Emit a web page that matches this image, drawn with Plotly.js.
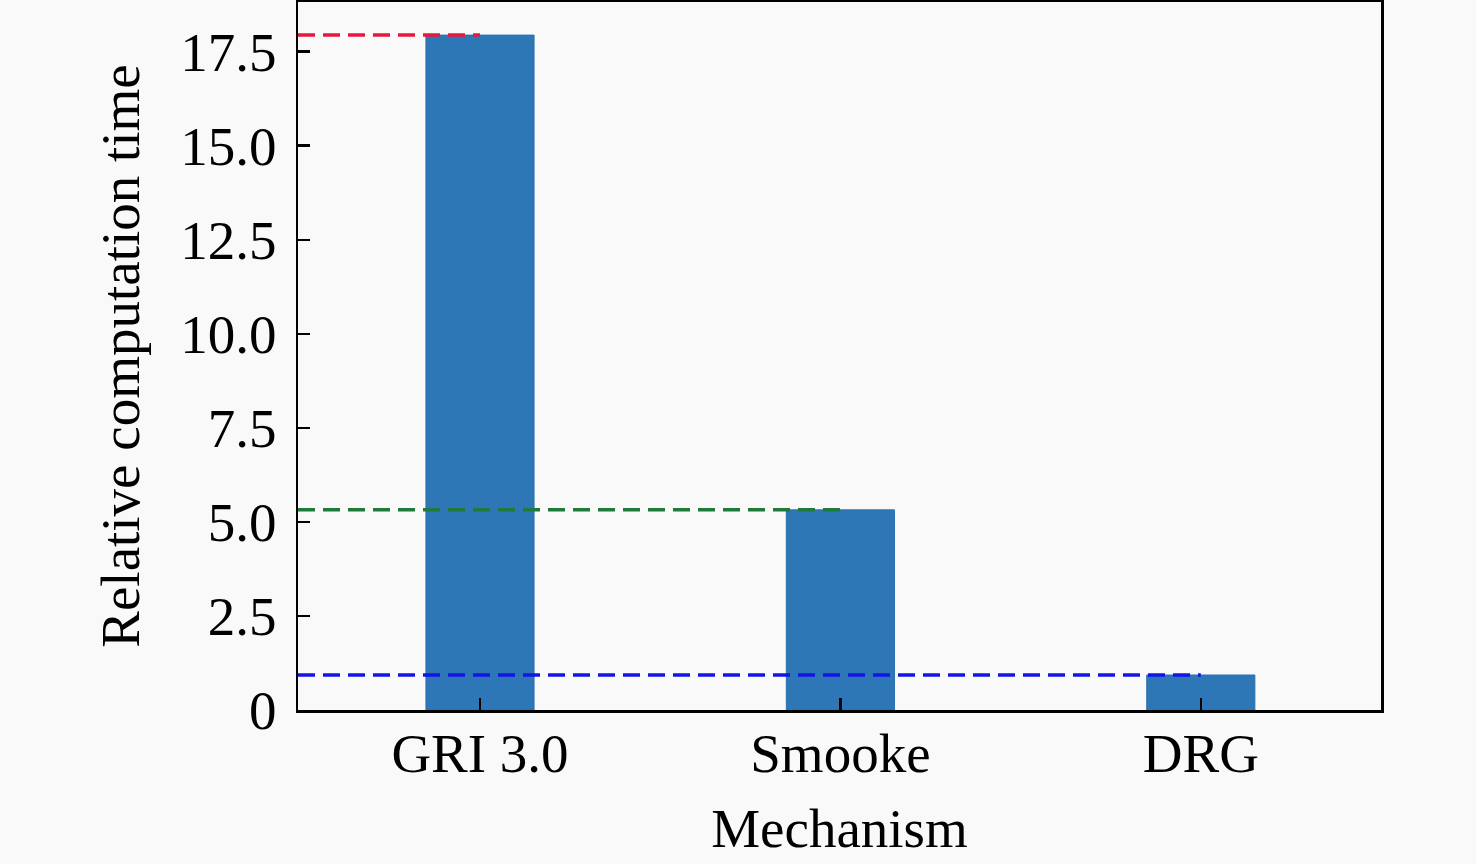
<!DOCTYPE html>
<html>
<head>
<meta charset="utf-8">
<script src="https://cdn.plot.ly/plotly-3.0.1.min.js"></script>
<style>html,body{margin:0;padding:0;background:#f9f9f9;}#chart{width:1476px;height:864px;}</style>
</head>
<body>
<div id="chart"></div>
<script>
const categories = ["GRI 3.0", "Smooke", "DRG"];
const times = [17.94, 5.32, 0.93];
const refColors = ["#e8173f", "#1f7a3c", "#1414e6"];
const yTickVals = [0, 2.5, 5, 7.5, 10, 12.5, 15, 17.5];
const yTickText = ["0", "2.5", "5.0", "7.5", "10.0", "12.5", "15.0", "17.5"];

const xIdx = categories.map((c, i) => i);
const xMin = -0.505, xMax = 2.5;

const traces = [{
  type: "bar",
  x: xIdx,
  y: times,
  width: 0.3,
  marker: {color: "#2e77b6", line: {color: "#2a70ae", width: 1}},
  hoverinfo: "skip"
}];
times.forEach((v, i) => {
  traces.push({
    type: "scatter",
    mode: "lines",
    x: [xMin, xIdx[i]],
    y: [v, v],
    line: {color: refColors[i], width: 3.5, dash: "17px,8px"},
    hoverinfo: "skip"
  });
});

const font = {family: "Liberation Serif, Times New Roman, serif", size: 55, color: "#000"};
const layout = {
  width: 1476, height: 864,
  paper_bgcolor: "#f9f9f9",
  plot_bgcolor: "#f9f9f9",
  showlegend: false,
  margin: {l: 298, r: 95, t: 2, b: 154},
  font: font,
  xaxis: {
    range: [xMin, xMax],
    tickvals: xIdx,
    ticktext: categories,
    ticks: "inside", ticklen: 12, tickwidth: 2.5, tickcolor: "#000",
    ticklabelstandoff: -7,
    showline: true, linecolor: "#000", linewidth: 2.5, mirror: true,
    showgrid: false, zeroline: false,
    tickfont: font,
    title: {text: "Mechanism", font: font, standoff: 26}
  },
  yaxis: {
    range: [0, 18.82],
    tickvals: yTickVals,
    ticktext: yTickText,
    ticks: "inside", ticklen: 12, tickwidth: 2.5, tickcolor: "#000",
    ticklabelstandoff: 8,
    showline: true, linecolor: "#000", linewidth: 2.5, mirror: true,
    showgrid: false, zeroline: false,
    tickfont: font,
    title: {text: "Relative computation time", font: font, standoff: 23}
  }
};
Plotly.newPlot("chart", traces, layout, {displayModeBar: false, staticPlot: true});
</script>
</body>
</html>
